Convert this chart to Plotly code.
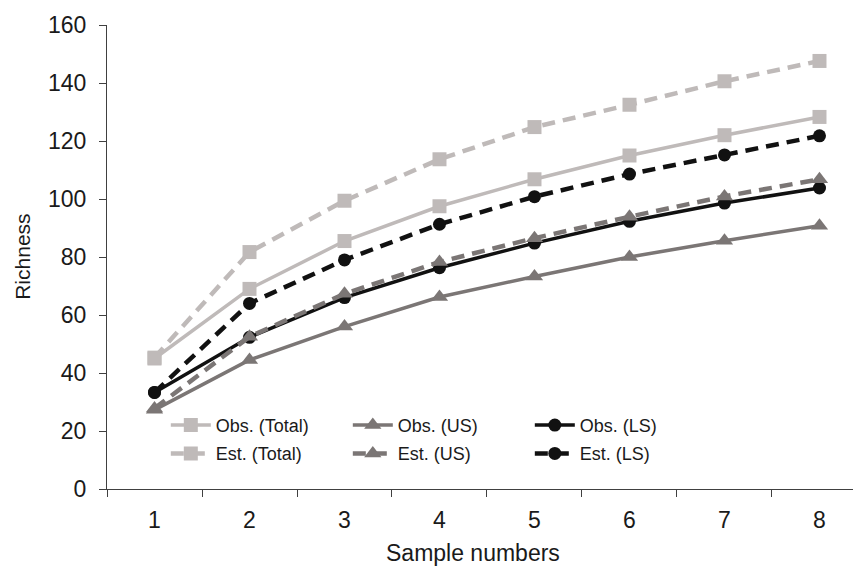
import plotly.graph_objects as go

samples = ["1", "2", "3", "4", "5", "6", "7", "8"]
obs_total = [45, 69, 85.5, 97.5, 106.8, 115, 122, 128.3]
est_total = [45.3, 81.7, 99.4, 113.7, 124.8, 132.5, 140.6, 147.6]
obs_us = [27.3, 44.5, 56, 66.2, 73.3, 80, 85.6, 90.8]
est_us = [27.8, 52.5, 67.3, 78.3, 86.5, 93.9, 100.9, 106.8]
obs_ls = [33.3, 52.3, 66, 76.3, 84.8, 92.3, 98.6, 103.8]
est_ls = [33.3, 64, 79, 91.3, 100.8, 108.6, 115.2, 121.8]

LIGHT = "#bfbab9"
MID = "#7b7675"
DARK = "#111111"
DASH = "13px,8px"

fig = go.Figure()
fig.add_trace(go.Scatter(x=samples, y=obs_total, name="Obs. (Total)", mode="lines+markers", legend="legend",
                         line=dict(color=LIGHT, width=3.5), marker=dict(symbol="square", size=14, color=LIGHT)))
fig.add_trace(go.Scatter(x=samples, y=obs_us, name="Obs. (US)", mode="lines+markers", legend="legend",
                         line=dict(color=MID, width=3.5), marker=dict(symbol="triangle-up", size=15, color=MID)))
fig.add_trace(go.Scatter(x=samples, y=obs_ls, name="Obs. (LS)", mode="lines+markers", legend="legend",
                         line=dict(color=DARK, width=3.5), marker=dict(symbol="circle", size=13, color=DARK)))
fig.add_trace(go.Scatter(x=samples, y=est_total, name="Est. (Total)", mode="lines+markers", legend="legend2",
                         line=dict(color=LIGHT, width=4.5, dash=DASH), marker=dict(symbol="square", size=14, color=LIGHT)))
fig.add_trace(go.Scatter(x=samples, y=est_us, name="Est. (US)", mode="lines+markers", legend="legend2",
                         line=dict(color=MID, width=4.5, dash=DASH), marker=dict(symbol="triangle-up", size=15, color=MID)))
fig.add_trace(go.Scatter(x=samples, y=est_ls, name="Est. (LS)", mode="lines+markers", legend="legend2",
                         line=dict(color=DARK, width=4.5, dash=DASH), marker=dict(symbol="circle", size=13, color=DARK)))

leg_common = dict(orientation="h", xanchor="left", yanchor="top",
                  bgcolor="rgba(0,0,0,0)", entrywidth=127, entrywidthmode="pixels",
                  itemwidth=40, tracegroupgap=0,
                  font=dict(family="Arial, Liberation Sans, sans-serif", size=18, color="#1a1a1a"))

fig.update_layout(
    width=853, height=558,
    margin=dict(l=99, r=0, t=17, b=77, autoexpand=False),
    paper_bgcolor="white", plot_bgcolor="white",
    font=dict(family="Arial, Liberation Sans, sans-serif", size=23, color="#1a1a1a"),
    showlegend=True,
    legend=dict(x=0.078, y=0.177, **leg_common),
    legend2=dict(x=0.078, y=0.116, **leg_common),
    xaxis=dict(type="category", range=[-0.5, 7.437], tickson="boundaries", automargin=False,
               ticks="outside", ticklen=7, tickcolor="#404040", showline=True,
               linecolor="#404040", linewidth=1, showgrid=False, zeroline=False,
               tickfont=dict(size=23), ticklabelstandoff=10),
    yaxis=dict(range=[0, 160], tickvals=[0, 20, 40, 60, 80, 100, 120, 140, 160], automargin=False,
               ticks="outside", ticklen=7, tickcolor="#404040", showline=True,
               linecolor="#404040", linewidth=1, showgrid=False, zeroline=False,
               tickfont=dict(size=23), ticklabelstandoff=8),
    annotations=[
        dict(text="Sample numbers", xref="paper", yref="paper", x=0.485, y=-0.138,
             xanchor="center", yanchor="middle", showarrow=False, font=dict(size=23)),
        dict(text="Richness", xref="paper", yref="paper", x=-0.113, y=0.5,
             xanchor="center", yanchor="middle", textangle=-90, showarrow=False, font=dict(size=21)),
    ],
)

fig.write_html("out.html")
